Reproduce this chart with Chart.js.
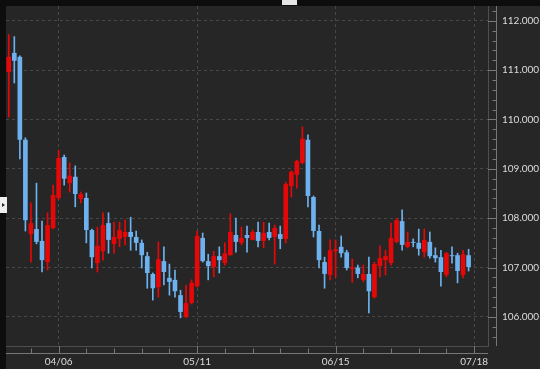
<!DOCTYPE html>
<html>
<head>
<meta charset="utf-8">
<script src="https://cdn.jsdelivr.net/npm/chart.js@4"></script>
<style>
  body { margin: 0; background: #0d0d0d; }
  #wrap { position: relative; width: 540px; height: 369px; }
  #tabTop { position: absolute; left: 282px; top: 0; width: 15px; height: 5px; background: #e6e6e6; }
  #tabLeft { position: absolute; left: 0; top: 197px; width: 7px; height: 16px; background: #eeeeee; }
  #tabLeft:after { content: ''; position: absolute; left: 2px; top: 6px; border-left: 3px solid #222; border-top: 2px solid transparent; border-bottom: 2px solid transparent; }
</style>
</head>
<body>
<div id="wrap">
  <canvas id="myChart" width="540" height="369"></canvas>
  <div id="tabTop"></div>
  <div id="tabLeft"></div>
</div>
<script>
'use strict';

// trading days, plus three empty slots at the right edge
const categories = [
  '03/24', '03/25', '03/26', '03/27', '03/30', '03/31',
  '04/01', '04/02', '04/03', '04/06', '04/07', '04/08', '04/09', '04/10', '04/13', '04/14', '04/15', '04/16', '04/17',
  '04/20', '04/21', '04/22', '04/23', '04/24', '04/27', '04/28', '04/29', '04/30',
  '05/01', '05/04', '05/05', '05/06', '05/07', '05/08', '05/11', '05/12', '05/13', '05/14', '05/15',
  '05/18', '05/19', '05/20', '05/21', '05/22', '05/25', '05/26', '05/27', '05/28', '05/29',
  '06/01', '06/02', '06/03', '06/04', '06/05', '06/08', '06/09', '06/10', '06/11', '06/12', '06/15', '06/16', '06/17',
  '06/18', '06/19', '06/22', '06/23', '06/24', '06/25', '06/26', '06/29', '06/30',
  '07/01', '07/02', '07/03', '07/06', '07/07', '07/08', '07/09', '07/10', '07/13', '07/14', '07/15', '07/16', '07/17',
  '07/18', '07/19', '07/20'
];
const tickLabels = ['04/06', '05/11', '06/15', '07/18'];

const opens = [
  110.96, 111.35, 111.27, 109.59, 107.68, 107.78, 107.54, 107.11, 107.80, 108.41,
  109.24, 108.71, 108.84, 108.39, 108.41, 107.76, 107.09, 107.33, 107.90, 107.48,
  107.58, 107.62, 107.72, 107.62, 107.50, 107.23, 106.87, 106.60, 107.13, 106.79,
  106.75, 106.44, 106.00, 106.28, 106.62, 107.60, 107.13, 107.01, 107.23, 107.09,
  107.25, 107.66, 107.50, 107.66, 107.56, 107.72, 107.54, 107.72, 107.62, 107.68,
  107.58, 108.65, 108.88, 109.12, 109.59, 108.43, 107.74, 107.11, 106.85, 107.33,
  107.42, 107.31, 106.97, 107.00, 106.75, 106.87, 106.40, 107.03, 107.15, 107.09,
  107.52, 107.94, 107.42, 107.52, 107.50, 107.31, 107.52, 107.25, 107.21, 106.85,
  107.25, 107.25, 106.85, 107.25
];
const highs = [
  111.72, 111.68, 111.29, 109.63, 108.31, 108.71, 107.94, 108.11, 108.67, 109.38,
  109.28, 109.12, 109.06, 108.53, 108.51, 107.78, 107.82, 108.11, 108.11, 107.92,
  107.92, 107.96, 108.02, 107.74, 107.56, 107.31, 106.89, 107.52, 107.42, 107.07,
  106.95, 106.54, 106.64, 106.75, 107.74, 107.70, 107.27, 107.33, 107.42, 107.50,
  108.09, 108.00, 107.82, 107.84, 107.76, 107.92, 107.92, 107.90, 107.86, 107.84,
  108.73, 108.96, 109.18, 109.85, 109.69, 108.45, 107.86, 107.21, 107.56, 107.56,
  107.64, 107.35, 107.17, 107.05, 107.05, 107.21, 107.11, 107.44, 107.35, 107.90,
  108.00, 108.17, 107.72, 107.58, 107.78, 107.78, 107.72, 107.40, 107.35, 107.31,
  107.42, 107.29, 107.35, 107.37
];
const lows = [
  110.05, 110.74, 109.20, 107.74, 107.11, 107.48, 106.91, 106.95, 107.78, 108.38,
  108.67, 108.53, 108.23, 108.31, 107.50, 106.99, 106.91, 107.15, 107.29, 107.29,
  107.42, 107.46, 107.35, 107.35, 106.99, 106.58, 106.34, 106.40, 106.65, 106.44,
  106.40, 105.98, 105.98, 106.26, 106.60, 107.11, 106.75, 106.81, 106.89, 107.05,
  107.25, 107.31, 107.46, 107.31, 107.56, 107.42, 107.40, 107.56, 107.07, 107.38,
  107.50, 108.43, 108.61, 109.10, 108.23, 107.62, 106.99, 106.58, 106.75, 106.80,
  107.21, 106.95, 106.70, 106.79, 106.71, 106.08, 106.38, 106.81, 106.85, 107.05,
  107.50, 107.35, 107.40, 107.42, 107.25, 107.21, 107.19, 107.11, 106.62, 106.81,
  107.09, 106.69, 106.79, 106.93
];
const closes = [
  111.27, 111.19, 109.59, 107.96, 107.90, 107.52, 107.15, 107.86, 108.47, 109.22,
  108.80, 108.86, 108.49, 108.49, 107.76, 107.21, 107.44, 107.86, 107.56, 107.62,
  107.76, 107.72, 107.62, 107.50, 107.25, 106.89, 106.58, 107.17, 106.91, 106.71,
  106.52, 106.10, 106.28, 106.69, 107.64, 107.13, 107.03, 107.23, 107.15, 107.29,
  107.72, 107.52, 107.60, 107.60, 107.72, 107.54, 107.70, 107.60, 107.80, 107.58,
  108.69, 108.94, 109.16, 109.61, 108.45, 107.74, 107.15, 106.87, 107.35, 107.37,
  107.29, 106.99, 107.00, 106.87, 106.87, 106.52, 107.07, 107.19, 107.23, 107.60,
  107.96, 107.46, 107.52, 107.50, 107.38, 107.56, 107.23, 107.19, 106.91, 107.29,
  107.23, 106.93, 107.27, 107.01
];

const UP = '#e60808';
const DOWN = '#6db2ee';
const colors = opens.map((o, i) => (closes[i] >= o ? UP : DOWN));
const firstWeek = categories.indexOf('04/06');
const isWeek = i => (i - firstWeek) % 5 === 0;
const isMajor = v => Math.abs(v - Math.round(v)) < 1e-6;

// fixed axis boxes, no extra room for the edge labels
const fixBox = (w, h) => s => {
  if (w) s.width = w;
  if (h) s.height = h;
  s.paddingTop = 0;
  s.paddingBottom = 0;
  s.paddingLeft = 0;
  s.paddingRight = 0;
};

const axisDecor = {
  id: 'axisDecor',
  beforeDraw(chart) {
    const c = chart.ctx;
    c.save();
    c.fillStyle = '#262626';
    c.fillRect(6, 6, chart.width - 6, chart.height - 6);
    c.restore();
  },
  afterDraw(chart) {
    const c = chart.ctx;
    const a = chart.chartArea;
    const xs = chart.scales.x;
    const ys = chart.scales.y;
    const ay = a.bottom + 7.5;
    const ax = a.right + 8.5;
    c.save();
    c.strokeStyle = '#777';
    c.lineWidth = 1;
    c.beginPath();
    c.moveTo(a.left, ay);
    c.lineTo(a.right, ay);
    c.moveTo(ax, a.top);
    c.lineTo(ax, a.bottom);
    categories.forEach((lab, i) => {
      if (!isWeek(i)) return;
      const px = Math.round(xs.getPixelForValue(i)) + 0.5;
      c.moveTo(px, tickLabels.includes(lab) ? a.bottom : ay - 5);
      c.lineTo(px, ay);
    });
    ys.ticks.forEach(t => {
      const py = Math.round(ys.getPixelForValue(t.value)) + 0.5;
      if (py < a.top || py > a.bottom) return;
      c.moveTo(isMajor(t.value) ? a.right : ax - 4, py);
      c.lineTo(ax, py);
    });
    c.stroke();
    c.restore();
  }
};

const ctx = document.getElementById('myChart');

new Chart(ctx, {
  type: 'bar',
  data: {
    labels: categories,
    datasets: [
      {
        label: 'wick',
        data: lows.map((l, i) => [l, highs[i]]),
        backgroundColor: colors,
        barThickness: 1,
        grouped: false,
        order: 2
      },
      {
        label: 'body',
        data: opens.map((o, i) => [o, closes[i]]),
        backgroundColor: colors,
        barPercentage: 0.84,
        categoryPercentage: 1,
        minBarLength: 1,
        grouped: false,
        order: 1
      }
    ]
  },
  options: {
    responsive: false,
    animation: false,
    layout: { padding: { top: 6, left: 6, right: 0, bottom: 0 } },
    plugins: { legend: { display: false }, tooltip: { enabled: false } },
    scales: {
      x: {
        type: 'category',
        offset: true,
        afterFit: fixBox(0, 23),
        grid: {
          offset: false,
          drawTicks: false,
          color: c => (c.tick && tickLabels.includes(categories[c.tick.value]) ? '#474747' : 'transparent')
        },
        border: { color: '#4e4e4e', dash: [3, 3] },
        ticks: {
          autoSkip: false,
          maxRotation: 0,
          padding: 10,
          color: '#dcdcdc',
          font: { family: 'Lato', size: 10 },
          callback: function (v) {
            const lab = this.getLabelForValue(v);
            return tickLabels.includes(lab) ? lab : '';
          }
        }
      },
      y: {
        position: 'right',
        min: 105.41,
        max: 112.3,
        afterFit: fixBox(52, 0),
        grid: {
          drawTicks: false,
          color: c => (c.tick && isMajor(c.tick.value) ? '#474747' : 'transparent')
        },
        border: { color: '#4e4e4e', dash: [3, 3] },
        ticks: {
          stepSize: 0.2,
          includeBounds: false,
          autoSkip: false,
          padding: 14,
          color: '#dcdcdc',
          font: { family: 'Lato', size: 10 },
          callback: v => (isMajor(v) ? v.toFixed(3) : '')
        }
      }
    }
  },
  plugins: [axisDecor]
});
</script>
</body>
</html>
